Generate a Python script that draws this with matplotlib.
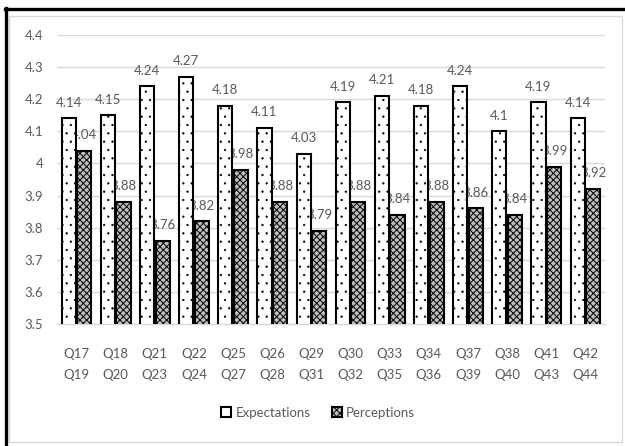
import matplotlib
matplotlib.use("Agg")
import matplotlib.pyplot as plt
from matplotlib.patches import Rectangle
from matplotlib.lines import Line2D
import numpy as np

# Survey item pairs and mean scores
categories = ["Q17\nQ19", "Q18\nQ20", "Q21\nQ23", "Q22\nQ24", "Q25\nQ27", "Q26\nQ28", "Q29\nQ31",
              "Q30\nQ32", "Q33\nQ35", "Q34\nQ36", "Q37\nQ39", "Q38\nQ40", "Q41\nQ43", "Q42\nQ44"]
expectations = [4.14, 4.15, 4.24, 4.27, 4.18, 4.11, 4.03, 4.19, 4.21, 4.18, 4.24, 4.1, 4.19, 4.14]
perceptions = [4.04, 3.88, 3.76, 3.82, 3.98, 3.88, 3.79, 3.88, 3.84, 3.88, 3.86, 3.84, 3.99, 3.92]
exp_labels = ["4.14", "4.15", "4.24", "4.27", "4.18", "4.11", "4.03", "4.19", "4.21", "4.18", "4.24", "4.1", "4.19", "4.14"]
per_labels = ["4.04", "3.88", "3.76", "3.82", "3.98", "3.88", "3.79", "3.88", "3.84", "3.88", "3.86", "3.84", "3.99", "3.92"]
yticks = [3.5, 3.6, 3.7, 3.8, 3.9, 4.0, 4.1, 4.2, 4.3, 4.4]
ytick_labels = ["3.5", "3.6", "3.7", "3.8", "3.9", "4", "4.1", "4.2", "4.3", "4.4"]

plt.rcParams["font.family"] = ["Lato", "DejaVu Sans"]
TXT = "#595959"
FS = 9.5

W, H = 625, 446
fig = plt.figure(figsize=(W / 100, H / 100), dpi=100)
fig.patch.set_facecolor("white")

# outer frame: heavy black edges at top/left, light grey chart-area border
fig.add_artist(Line2D([5 / W, 1.0], [1 - 9 / H, 1 - 9 / H], color="black", lw=2.4, transform=fig.transFigure))
fig.add_artist(Line2D([6 / W, 6 / W], [0.0, 1 - 8 / H], color="black", lw=2.4, transform=fig.transFigure))
fig.add_artist(Rectangle((8.5 / W, 1 - 441.5 / H), (622 - 8.5) / W, (441.5 - 15.5) / H,
                         fill=False, edgecolor="#d9d9d9", lw=1.0, transform=fig.transFigure))

ax = fig.add_axes([57 / W, 1 - 324 / H, (605 - 57) / W, (324 - 35) / H])
x = np.arange(len(categories))
bw = 0.36
off = 0.2

with plt.rc_context({"hatch.linewidth": 0.4, "hatch.color": "#333333"}):
    ax.bar(x - off, expectations, bw, facecolor="white", edgecolor="black",
           linewidth=1.5, hatch="..", zorder=3)
with plt.rc_context({"hatch.linewidth": 0.7, "hatch.color": "black"}):
    ax.bar(x + off, perceptions, bw, facecolor="#bdbdbd", edgecolor="black",
           linewidth=1.5, hatch="xxxxx", zorder=3)

for xi, v, s in zip(x, expectations, exp_labels):
    ax.annotate(s, (xi - off, v), xytext=(0, 7), textcoords="offset points",
                ha="center", va="bottom", fontsize=FS, color=TXT, zorder=2)
for xi, v, s in zip(x, perceptions, per_labels):
    ax.annotate(s, (xi + off, v), xytext=(0, 7), textcoords="offset points",
                ha="center", va="bottom", fontsize=FS, color=TXT, zorder=2)

ax.set_ylim(3.5, 4.4)
ax.set_xlim(-0.5, len(categories) - 0.5)
ax.set_yticks(yticks)
ax.set_yticklabels(ytick_labels)
ax.set_xticks(x)
ax.set_xticklabels(categories, linespacing=1.9)
ax.tick_params(axis="both", length=0, labelsize=FS, labelcolor=TXT)
ax.tick_params(axis="x", pad=17)
ax.tick_params(axis="y", pad=10)
ax.yaxis.grid(True, color="#d9d9d9", lw=1.0, zorder=0)
ax.set_axisbelow(True)
for sp in ["top", "right", "left"]:
    ax.spines[sp].set_visible(False)
ax.spines["bottom"].set_color("#d9d9d9")
ax.spines["bottom"].set_linewidth(1.0)

# legend
with plt.rc_context({"hatch.linewidth": 0.7, "hatch.color": "black"}):
    handles = [Rectangle((0, 0), 1, 1, facecolor="white", edgecolor="black", lw=1.5),
               Rectangle((0, 0), 1, 1, facecolor="#bdbdbd", edgecolor="black", lw=1.5, hatch="xxxxx")]
    fig.legend(handles, ["Expectations", "Perceptions"], loc="center", bbox_to_anchor=(318 / W, 1 - 413 / H),
               ncol=2, frameon=False, fontsize=FS, labelcolor=TXT, handlelength=0.8, handleheight=0.8,
               handletextpad=0.3, columnspacing=1.6)

fig.savefig("out.png", dpi=100, facecolor="white")
